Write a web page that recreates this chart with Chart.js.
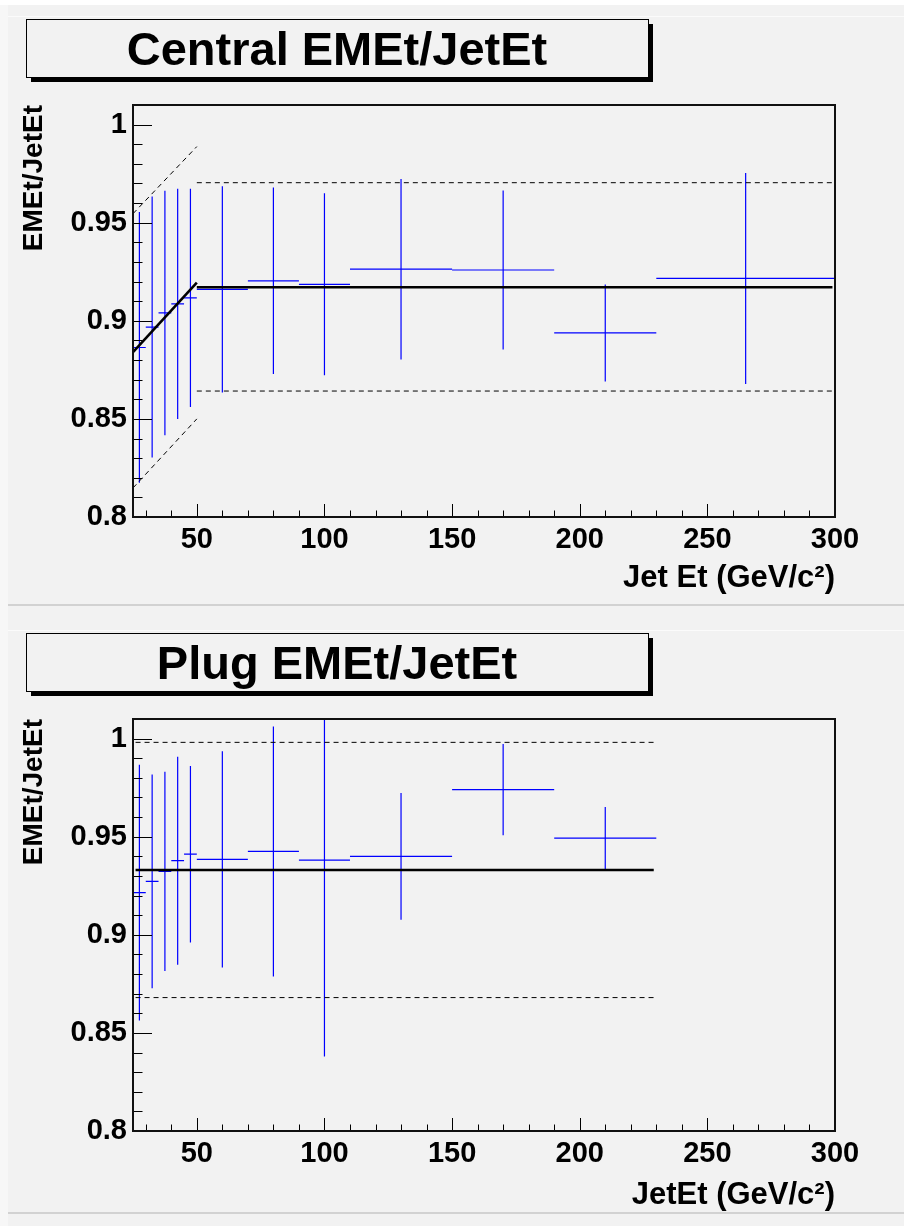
<!DOCTYPE html>
<html>
<head>
<meta charset="utf-8">
<title>EMEt/JetEt</title>
<script src="https://cdn.jsdelivr.net/npm/chart.js@4.4.0/dist/chart.umd.min.js"></script>
<style>
  html, body { margin: 0; padding: 0; background: #f2f2f2; }
  canvas { display: block; }
</style>
</head>
<body>
<canvas id="centralChart" width="904" height="614"></canvas>
<canvas id="plugChart" width="904" height="612"></canvas>
<script>
// Jet Et bins (GeV/c^2) with the mean EM fraction and its error
const centralBinLow = [25, 30, 35, 40, 45, 50, 70, 90, 110, 150, 190, 230];
const centralBinHigh = [30, 35, 40, 45, 50, 70, 90, 110, 150, 190, 230, 300];
const centralRatio = [0.8864, 0.8968, 0.9040, 0.9086, 0.9117, 0.9160, 0.9204, 0.9186, 0.9263, 0.9259, 0.8938, 0.9216];
const centralError = [0.0690, 0.0665, 0.0623, 0.0587, 0.0556, 0.0526, 0.0475, 0.0464, 0.0460, 0.0405, 0.0247, 0.0538];

const plugBinLow = [25, 30, 35, 40, 45, 50, 70, 90, 110, 150, 190];
const plugBinHigh = [30, 35, 40, 45, 50, 70, 90, 110, 150, 190, 230];
const plugRatio = [0.9215, 0.9272, 0.9323, 0.9378, 0.9411, 0.9385, 0.9425, 0.9381, 0.9400, 0.9740, 0.9493];
const plugError = [0.0652, 0.0545, 0.0508, 0.0530, 0.0450, 0.0551, 0.0637, 0.1001, 0.0323, 0.0233, 0.0158];

// fit: linear rise below 50 GeV then flat, dashed lines are the band
const centralRampX = [25, 50];
const centralRamp = [0.8840, 0.9195];
const centralRampUpper = [0.9546, 0.9888];
const centralRampLower = [0.8148, 0.8500];
const centralFlatX = [50, 299];
const centralFlat = [0.9171, 0.9171];
const centralFlatUpper = [0.9704, 0.9704];
const centralFlatLower = [0.8642, 0.8642];

const plugFlatX = [26, 229];
const plugFlat = [0.9330, 0.9330];
const plugFlatUpper = [0.9981, 0.9981];
const plugFlatLower = [0.8680, 0.8680];

const xTicks = [50, 100, 150, 200, 250, 300];
const yTicks = [0.8, 0.85, 0.9, 0.95, 1];

const FONT = '"Liberation Sans", Arial, Helvetica, sans-serif';

function errorBarPoints(lo, hi, val, err) {
  const pts = [];
  val.forEach((v, i) => {
    const mid = (lo[i] + hi[i]) / 2;
    pts.push({ x: lo[i], y: v }, { x: hi[i], y: v }, { x: mid, y: null });
    pts.push({ x: mid, y: v - err[i] }, { x: mid, y: v + err[i] }, { x: mid, y: null });
  });
  return pts;
}

function linePoints(xs, ys) {
  return xs.map((x, i) => ({ x: x, y: ys[i] }));
}

function bars(points) {
  return {
    data: points, showLine: true, spanGaps: false, order: 2,
    borderColor: '#0000ff', borderWidth: 1.2, pointRadius: 0,
  };
}

function fitLine(points, dashed) {
  return {
    data: points, showLine: true, order: 1,
    borderColor: '#000000', borderWidth: dashed ? 1 : 2.6,
    borderDash: dashed ? [5, 4] : [], pointRadius: 0,
  };
}

// pad background, framed title, axis frame and inward ticks
const padDecor = {
  id: 'padDecor',
  beforeDraw(chart, args, opts) {
    const { ctx, width, height } = chart;
    ctx.save();
    ctx.fillStyle = '#f2f2f2';
    ctx.fillRect(0, 0, width, height);
    if (opts.topMargin) {
      ctx.fillStyle = '#ffffff';
      ctx.fillRect(0, 0, width, opts.topMargin);
    }
    ctx.fillStyle = '#f7f7f7';
    ctx.fillRect(0, opts.topMargin, 8, height);
    ctx.fillStyle = '#fbfbfb';
    ctx.fillRect(8, 16, width - 8, 1);
    ctx.fillStyle = '#d2d2d2';
    ctx.fillRect(8, opts.padBottom, width - 8, 2);
    ctx.restore();
  },
  afterDraw(chart, args, opts) {
    const { ctx, chartArea: a } = chart;
    const xs = chart.scales.x;
    const ys = chart.scales.y;
    ctx.save();

    // ticks pointing into the plot
    ctx.strokeStyle = '#000000';
    ctx.lineWidth = 1;
    ctx.beginPath();
    for (let k = 80; k <= 101; k++) {
      const py = Math.round(ys.getPixelForValue(k / 100)) + 0.5;
      const len = k % 5 === 0 ? 19 : 9.5;
      ctx.moveTo(a.left, py);
      ctx.lineTo(a.left + len, py);
    }
    for (let k = 3; k <= 30; k++) {
      const px = Math.round(xs.getPixelForValue(k * 10)) + 0.5;
      const len = (k * 10) % 50 === 0 ? 13 : 6.5;
      ctx.moveTo(px, a.bottom);
      ctx.lineTo(px, a.bottom - len);
    }
    ctx.stroke();

    ctx.lineWidth = 2;
    ctx.strokeStyle = '#111111';
    ctx.strokeRect(a.left, a.top, a.right - a.left, a.bottom - a.top);

    // title box with drop shadow
    const b = opts.box;
    ctx.fillStyle = '#000000';
    ctx.fillRect(b.x + 5, b.y + 5, b.w, b.h);
    ctx.fillStyle = '#f2f2f2';
    ctx.fillRect(b.x, b.y, b.w, b.h);
    ctx.lineWidth = 1;
    ctx.strokeStyle = '#000000';
    ctx.strokeRect(b.x + 0.5, b.y + 0.5, b.w, b.h);
    ctx.fillStyle = '#000000';
    ctx.font = 'bold 47px ' + FONT;
    ctx.textAlign = 'center';
    ctx.textBaseline = 'alphabetic';
    ctx.fillText(opts.title, b.x + b.w / 2, b.y + 46);
    ctx.restore();
  }
};

function makeChart(id, datasets, cfg) {
  const tickFont = { family: FONT, weight: 'bold', size: 29 };
  return new Chart(document.getElementById(id), {
    type: 'scatter',
    data: { datasets: datasets },
    options: {
      responsive: false,
      animation: false,
      events: [],
      layout: { padding: { left: 0, top: 105, right: 69, bottom: 0 } },
      plugins: {
        legend: { display: false },
        tooltip: { enabled: false },
        padDecor: cfg,
      },
      scales: {
        x: {
          type: 'linear', min: 25, max: 300,
          afterBuildTicks: s => { s.ticks = xTicks.map(v => ({ value: v })); },
          afterFit: s => { s.height = cfg.xAxisHeight; },
          grid: { display: false, drawTicks: false },
          border: { display: false },
          ticks: { color: '#000', font: tickFont, padding: 6, maxRotation: 0, autoSkip: false },
          title: {
            display: true, text: cfg.xTitle, align: 'end', color: '#000',
            font: { family: FONT, weight: 'bold', size: 31 },
            padding: { top: 0, bottom: cfg.xTitlePad },
          },
        },
        y: {
          type: 'linear', min: 0.8, max: 1.01,
          afterBuildTicks: s => { s.ticks = yTicks.map(v => ({ value: v })); },
          afterFit: s => { s.width = 133; },
          grid: { display: false, drawTicks: false },
          border: { display: false },
          ticks: {
            color: '#000', font: tickFont, padding: 6, autoSkip: false,
            callback: v => String(Math.round(v * 100) / 100),
          },
          title: {
            display: true, text: 'EMEt/JetEt', align: 'end', color: '#000',
            font: { family: FONT, weight: 'bold', size: 28 },
            padding: { top: 17, bottom: 0 },
          },
        },
      },
    },
    plugins: [padDecor],
  });
}

makeChart('centralChart', [
  bars(errorBarPoints(centralBinLow, centralBinHigh, centralRatio, centralError)),
  fitLine(linePoints(centralRampX, centralRamp), false),
  fitLine(linePoints(centralFlatX, centralFlat), false),
  fitLine(linePoints(centralRampX, centralRampUpper), true),
  fitLine(linePoints(centralRampX, centralRampLower), true),
  fitLine(linePoints(centralFlatX, centralFlatUpper), true),
  fitLine(linePoints(centralFlatX, centralFlatLower), true),
], {
  title: 'Central EMEt/JetEt',
  box: { x: 26, y: 19, w: 622, h: 58 },
  xTitle: 'Jet Et (GeV/c²)',
  xAxisHeight: 97, xTitlePad: 17, topMargin: 5, padBottom: 604,
});

makeChart('plugChart', [
  bars(errorBarPoints(plugBinLow, plugBinHigh, plugRatio, plugError)),
  fitLine(linePoints(plugFlatX, plugFlat), false),
  fitLine(linePoints(plugFlatX, plugFlatUpper), true),
  fitLine(linePoints(plugFlatX, plugFlatLower), true),
], {
  title: 'Plug EMEt/JetEt',
  box: { x: 26, y: 19, w: 622, h: 58 },
  xTitle: 'JetEt (GeV/c²)',
  xAxisHeight: 95, xTitlePad: 12, topMargin: 0, padBottom: 598,
});
</script>
</body>
</html>
